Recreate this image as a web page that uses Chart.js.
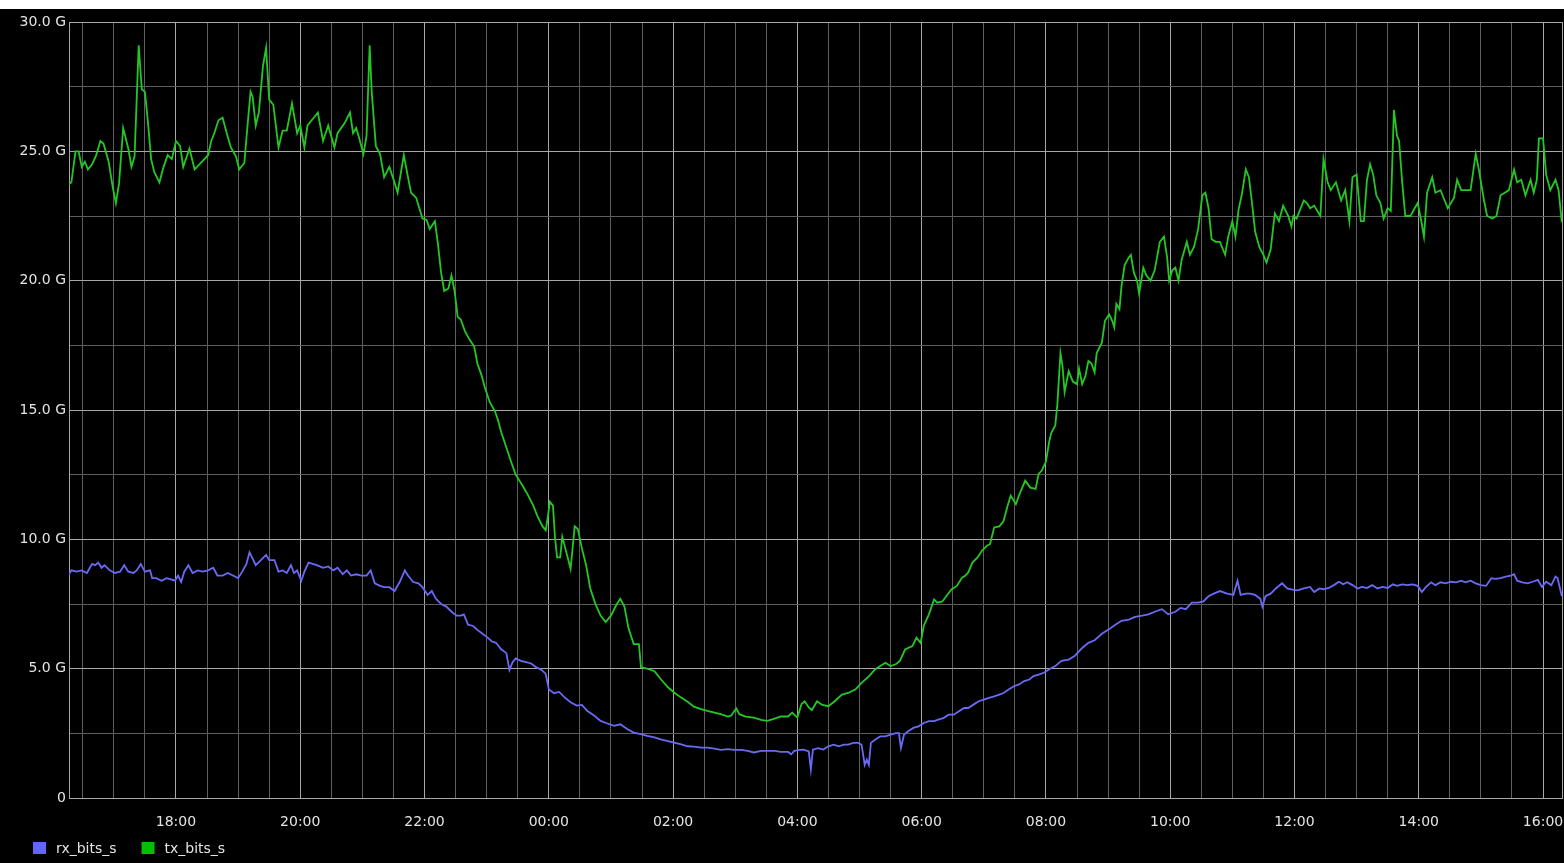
<!DOCTYPE html>
<html>
<head>
<meta charset="utf-8">
<script src="https://cdn.jsdelivr.net/npm/chart.js@4.4.1/dist/chart.umd.min.js"></script>
<style>
  html, body { margin: 0; padding: 0; background: #fff; width: 1564px; height: 863px; overflow: hidden; }
  #wrap { position: absolute; left: 0; top: 9px; width: 1564px; height: 854px; background: #000; }
  canvas { display: block; }
</style>
</head>
<body>
<div id="wrap"><canvas id="traffic" width="1564" height="854"></canvas></div>
<script>
// Sample times are minutes after 16:00 on the first day.
const START_HOUR = 16;

// tx_bits_s (Gbit/s)
const txMinutes = [
  10, 16, 19, 23, 26, 29, 32, 35, 39, 43, 47, 50, 55, 59, 62, 65, 69, 74, 77, 80,
  84, 87, 90, 93, 96, 99, 104, 108, 112, 116, 120, 124, 127, 133, 138, 144, 151, 154, 157, 161,
  165, 169, 173, 178, 181, 186, 188, 192, 194, 197, 200, 204, 207, 210, 214, 219, 223, 227, 232, 237,
  240, 244, 247, 253, 257, 262, 267, 273, 276, 283, 288, 291, 294, 297, 301, 304, 307, 309, 313, 317,
  321, 326, 331, 334, 336, 340, 344, 347, 352, 355, 358, 362, 365, 370, 373, 376, 379, 383, 386, 389,
  392, 395, 399, 403, 408, 411, 415, 418, 423, 428, 431, 434, 439, 444, 448, 455, 460, 465, 469, 474,
  477, 479, 481, 484, 486, 488, 491, 493, 496, 501, 505, 508, 512, 516, 520, 525, 530, 535, 540, 545,
  549, 553, 557, 562, 567, 569, 575, 582, 588, 595, 601, 607, 614, 620, 627, 633, 640, 646, 653, 656,
  661, 664, 670, 678, 685, 691, 698, 704, 711, 715, 720, 724, 727, 731, 734, 739, 744, 750, 756, 763,
  769, 776, 782, 789, 795, 800, 805, 810, 815, 819, 824, 831, 835, 839, 842, 847, 852, 855, 860, 865,
  869, 874, 879, 882, 885, 889, 894, 898, 903, 906, 910, 915, 919, 923, 926, 931, 935, 940, 945, 950,
  953, 956, 960, 963, 965, 969, 971, 974, 976, 978, 982, 986, 990, 992, 995, 998, 1001, 1004, 1007, 1009,
  1014, 1017, 1021, 1024, 1026, 1028, 1031, 1033, 1036, 1040, 1042, 1045, 1048, 1050, 1054, 1057, 1061, 1065, 1070, 1074,
  1077, 1079, 1082, 1085, 1088, 1091, 1096, 1099, 1103, 1107, 1111, 1114, 1117, 1120, 1124, 1128, 1133, 1136, 1140, 1143,
  1146, 1149, 1153, 1156, 1159, 1162, 1166, 1170, 1173, 1177, 1181, 1185, 1189, 1194, 1197, 1199, 1202, 1205, 1209, 1212,
  1215, 1219, 1225, 1228, 1232, 1235, 1240, 1245, 1249, 1253, 1256, 1260, 1264, 1267, 1270, 1273, 1276, 1279, 1283, 1286,
  1290, 1293, 1296, 1299, 1301, 1304, 1307, 1312, 1316, 1319, 1322, 1325, 1328, 1333, 1336, 1341, 1345, 1348, 1354, 1357,
  1361, 1365, 1370, 1375, 1378, 1383, 1386, 1391, 1395, 1399, 1403, 1407, 1412, 1415, 1419, 1423, 1428, 1431, 1434, 1436,
  1440, 1443, 1447, 1452, 1455, 1458, 1462
];
const txGbps = [
  23.6, 23.7, 23.8, 25.0, 25.0, 24.4, 24.6, 24.3, 24.5, 24.85, 25.4, 25.3, 24.6, 23.6, 23.0, 23.75, 25.9, 25.1, 24.4, 24.8,
  29.1, 27.4, 27.3, 26.1, 24.7, 24.2, 23.8, 24.4, 24.85, 24.7, 25.4, 25.2, 24.4, 25.1, 24.3, 24.55, 24.85, 25.4, 25.7, 26.2,
  26.3, 25.7, 25.15, 24.8, 24.3, 24.55, 25.5, 27.3, 27.1, 26.0, 26.5, 28.3, 29.0, 27.0, 26.8, 25.15, 25.8, 25.8, 26.85, 25.7,
  26.0, 25.15, 26.0, 26.3, 26.5, 25.4, 26.0, 25.15, 25.7, 26.1, 26.5, 25.7, 25.9, 25.5, 24.9, 25.6, 29.1, 27.3, 25.2, 24.9,
  24.0, 24.4, 23.8, 23.4, 23.9, 24.85, 24.0, 23.4, 23.2, 22.8, 22.4, 22.35, 22.0, 22.3, 21.4, 20.3, 19.6, 19.7, 20.2, 19.6,
  18.6, 18.5, 18.05, 17.75, 17.45, 16.8, 16.35, 15.9, 15.3, 14.95, 14.6, 14.15, 13.55, 12.95, 12.5, 12.05, 11.7, 11.3, 10.9, 10.5,
  10.35, 10.85, 11.45, 11.3, 10.05, 9.3, 9.3, 10.1, 9.64, 8.86, 10.5, 10.4, 9.64, 9.0, 8.1, 7.5, 7.05, 6.8, 7.05, 7.45,
  7.7, 7.4, 6.55, 5.95, 5.95, 5.05, 5.0, 4.9, 4.6, 4.28, 4.08, 3.9, 3.72, 3.53, 3.44, 3.37, 3.3, 3.24, 3.15, 3.18,
  3.46, 3.24, 3.15, 3.11, 3.02, 2.98, 3.07, 3.15, 3.15, 3.3, 3.11, 3.63, 3.74, 3.5, 3.4, 3.74, 3.6, 3.55, 3.74, 4.0,
  4.06, 4.19, 4.45, 4.7, 4.97, 5.1, 5.23, 5.1, 5.17, 5.3, 5.74, 5.87, 6.2, 6.0, 6.65, 7.1, 7.68, 7.55, 7.6, 7.87,
  8.07, 8.2, 8.52, 8.59, 8.72, 9.1, 9.3, 9.55, 9.75, 9.81, 10.46, 10.5, 10.7, 11.3, 11.69, 11.36, 11.8, 12.27, 12.0, 11.95,
  12.53, 12.66, 13.0, 13.75, 14.1, 14.4, 15.2, 17.2, 16.7, 15.7, 16.5, 16.1, 16.0, 16.6, 16.0, 16.3, 16.9, 16.8, 16.45, 17.2,
  17.6, 18.45, 18.7, 18.45, 18.2, 19.1, 18.9, 19.8, 20.6, 20.9, 21.0, 20.3, 20.0, 19.5, 20.5, 20.2, 20.0, 20.4, 21.5, 21.7,
  20.9, 20.0, 20.4, 20.5, 20.0, 20.8, 21.5, 21.0, 21.3, 22.0, 23.3, 23.4, 22.8, 21.6, 21.5, 21.5, 21.0, 21.7, 22.3, 21.7,
  22.75, 23.3, 24.3, 24.0, 23.0, 21.9, 21.3, 21.0, 20.7, 21.2, 22.6, 22.3, 22.9, 22.5, 22.1, 22.5, 22.4, 22.7, 23.1, 23.0,
  22.8, 22.9, 22.5, 24.7, 23.8, 23.5, 23.8, 23.1, 23.5, 22.3, 24.0, 24.1, 22.3, 22.3, 23.9, 24.5, 24.1, 23.3, 23.0, 22.4,
  22.8, 22.7, 26.6, 25.6, 25.4, 23.8, 22.5, 22.5, 22.8, 23.0, 22.4, 21.7, 23.4, 24.0, 23.4, 23.5, 23.1, 22.8, 23.2, 23.9,
  23.5, 23.5, 23.5, 24.9, 24.3, 23.1, 22.5, 22.4, 22.5, 23.3, 23.4, 23.5, 24.3, 23.8, 23.9, 23.3, 23.9, 23.4, 23.9, 25.5,
  25.5, 24.1, 23.5, 23.9, 23.5, 22.3, 22.2
];

// rx_bits_s (Gbit/s)
const rxMinutes = [
  10, 16, 19, 24, 29, 34, 39, 42, 45, 48, 51, 56, 61, 66, 70, 74, 79, 82, 86, 90,
  95, 97, 101, 106, 111, 115, 119, 122, 125, 128, 132, 136, 141, 146, 151, 156, 160, 165, 170, 175,
  180, 184, 188, 191, 194, 197, 202, 207, 210, 215, 219, 223, 227, 231, 234, 237, 241, 244, 248, 252,
  256, 262, 267, 272, 276, 281, 285, 289, 294, 299, 304, 308, 312, 317, 321, 326, 331, 336, 341, 344,
  349, 354, 358, 363, 367, 371, 376, 381, 386, 391, 395, 398, 402, 407, 411, 416, 421, 425, 429, 434,
  439, 442, 445, 448, 453, 458, 463, 468, 473, 477, 480, 485, 490, 495, 501, 507, 512, 517, 524, 530,
  536, 543, 549, 556, 562, 569, 575, 582, 588, 595, 601, 607, 614, 620, 627, 633, 640, 646, 653, 659,
  666, 672, 678, 685, 691, 698, 704, 711, 714, 717, 722, 726, 731, 733, 735, 740, 745, 750, 755, 760,
  765, 769, 774, 779, 782, 785, 787, 789, 791, 795, 800, 805, 810, 815, 818, 820, 823, 827, 832, 837,
  842, 847, 852, 856, 861, 866, 871, 876, 881, 885, 890, 895, 900, 905, 910, 915, 919, 924, 929, 934,
  939, 944, 948, 953, 958, 964, 969, 975, 982, 988, 995, 1001, 1007, 1014, 1020, 1027, 1033, 1040, 1046, 1053,
  1059, 1065, 1072, 1078, 1085, 1090, 1095, 1101, 1107, 1112, 1117, 1122, 1128, 1135, 1141, 1145, 1148, 1153, 1157, 1162,
  1167, 1169, 1172, 1177, 1182, 1188, 1193, 1199, 1203, 1209, 1215, 1219, 1224, 1228, 1233, 1238, 1243, 1247, 1251, 1256,
  1261, 1265, 1270, 1275, 1280, 1285, 1290, 1295, 1299, 1304, 1309, 1314, 1319, 1323, 1327, 1332, 1336, 1341, 1346, 1351,
  1356, 1361, 1365, 1370, 1375, 1380, 1385, 1390, 1394, 1399, 1404, 1409, 1412, 1415, 1420, 1425, 1430, 1435, 1439, 1443,
  1448, 1452, 1454, 1458, 1462
];
const rxGbps = [
  8.6, 8.6, 8.8, 8.75, 8.8, 8.7, 9.05, 9.0, 9.1, 8.9, 9.0, 8.8, 8.7, 8.75, 9.0, 8.75, 8.7, 8.8, 9.05, 8.75,
  8.8, 8.5, 8.5, 8.4, 8.5, 8.45, 8.4, 8.6, 8.35, 8.75, 9.0, 8.7, 8.8, 8.75, 8.8, 8.9, 8.6, 8.6, 8.7, 8.6,
  8.5, 8.75, 9.05, 9.5, 9.25, 9.0, 9.2, 9.4, 9.2, 9.2, 8.75, 8.8, 8.7, 9.0, 8.7, 8.8, 8.4, 8.75, 9.1, 9.05,
  9.0, 8.9, 8.95, 8.8, 8.9, 8.65, 8.8, 8.6, 8.65, 8.6, 8.6, 8.8, 8.3, 8.2, 8.15, 8.15, 8.0, 8.35, 8.8, 8.6,
  8.35, 8.3, 8.15, 7.85, 8.0, 7.7, 7.5, 7.4, 7.2, 7.05, 7.05, 7.1, 6.7, 6.65, 6.5, 6.35, 6.2, 6.05, 6.0, 5.75,
  5.6, 4.95, 5.25, 5.4, 5.3, 5.25, 5.2, 5.05, 4.95, 4.8, 4.2, 4.05, 4.1, 3.9, 3.7, 3.57, 3.6, 3.37, 3.18, 2.98,
  2.89, 2.79, 2.85, 2.66, 2.53, 2.47, 2.4, 2.34, 2.27, 2.2, 2.14, 2.08, 2.0, 1.99, 1.95, 1.95, 1.91, 1.86, 1.89, 1.86,
  1.86, 1.82, 1.76, 1.82, 1.82, 1.82, 1.78, 1.78, 1.69, 1.82, 1.86, 1.87, 1.8, 1.1, 1.87, 1.93, 1.87, 2.0, 2.06, 2.0,
  2.06, 2.06, 2.13, 2.13, 2.06, 1.28, 1.48, 1.28, 2.13, 2.25, 2.38, 2.38, 2.45, 2.51, 2.51, 1.93, 2.45, 2.58, 2.71, 2.77,
  2.9, 2.97, 2.97, 3.03, 3.09, 3.22, 3.22, 3.35, 3.48, 3.48, 3.61, 3.74, 3.8, 3.87, 3.93, 4.0, 4.06, 4.19, 4.32, 4.39,
  4.52, 4.58, 4.71, 4.77, 4.84, 5.0, 5.1, 5.3, 5.35, 5.5, 5.8, 6.0, 6.1, 6.35, 6.5, 6.7, 6.85, 6.9, 7.0, 7.05,
  7.1, 7.2, 7.3, 7.1, 7.2, 7.35, 7.3, 7.55, 7.55, 7.6, 7.8, 7.9, 8.0, 7.9, 7.85, 8.4, 7.85, 7.9, 7.9, 7.85,
  7.7, 7.4, 7.8, 7.9, 8.1, 8.3, 8.1, 8.05, 8.03, 8.1, 8.16, 7.96, 8.1, 8.07, 8.12, 8.23, 8.36, 8.26, 8.34, 8.23,
  8.1, 8.16, 8.12, 8.23, 8.1, 8.16, 8.12, 8.26, 8.2, 8.26, 8.23, 8.26, 8.2, 7.96, 8.16, 8.34, 8.23, 8.34, 8.3, 8.36,
  8.34, 8.4, 8.34, 8.4, 8.3, 8.23, 8.2, 8.5, 8.47, 8.5, 8.56, 8.6, 8.65, 8.4, 8.34, 8.3, 8.36, 8.43, 8.16, 8.36,
  8.23, 8.56, 8.5, 7.83, 7.77
];

// Visible time window (minutes after 16:00): 16:16:42 .. 16:18:18 next day
const X_MIN = 16.7;
const X_MAX = 1458.3;
// Time axis labels every 2 h, light grid every 30 min
const xMajorStepMin = 120;
const xMinorStepMin = 30;
// Value axis labels every 5 G, light grid every 2.5 G
const Y_MAX = 30;
const yMajorStep = 5;
const yMinorStep = 2.5;

const MAJOR_GRID = '#a8a8a8';
const MINOR_GRID = '#5e5e5e';
const TEXT = '#e4e4e4';
const RX_COLOR = '#6a6af6';
const TX_COLOR = '#24c824';

function toPoints(mins, vals) {
  return mins.map((m, i) => ({ x: m, y: vals[i] }));
}

function clockLabel(min) {
  const h = Math.round(START_HOUR + min / 60) % 24;
  return String(h).padStart(2, '0') + ':00';
}

function isMultiple(v, step) {
  const r = v / step;
  return Math.abs(r - Math.round(r)) < 1e-6;
}

Chart.defaults.font.family = "'DejaVu Sans', 'Liberation Sans', sans-serif";
Chart.defaults.font.size = 14;
Chart.defaults.color = TEXT;

// Legend drawn under the time axis, square swatch + label
const bottomLegend = {
  id: 'bottomLegend',
  afterDraw(chart) {
    const ctx = chart.ctx;
    ctx.save();
    ctx.font = "14px 'DejaVu Sans'";
    ctx.textBaseline = 'middle';
    ctx.textAlign = 'left';
    let x = 33;
    const boxTop = 833, yMid = 840;
    chart.data.datasets.forEach(ds => {
      ctx.fillStyle = ds.legendColor;
      ctx.fillRect(x, boxTop, 13, 12);
      ctx.fillStyle = TEXT;
      ctx.fillText(ds.label, x + 23, yMid);
      x += 23 + ctx.measureText(ds.label).width + 25;
    });
    ctx.restore();
  }
};

new Chart(document.getElementById('traffic'), {
  type: 'line',
  data: {
    datasets: [
      {
        label: 'rx_bits_s',
        data: toPoints(rxMinutes, rxGbps),
        borderColor: RX_COLOR,
        legendColor: '#6464ff',
        borderWidth: 1.8,
        pointRadius: 0,
        tension: 0,
        fill: false
      },
      {
        label: 'tx_bits_s',
        data: toPoints(txMinutes, txGbps),
        borderColor: TX_COLOR,
        legendColor: '#00c000',
        borderWidth: 1.8,
        pointRadius: 0,
        tension: 0,
        fill: false
      }
    ]
  },
  options: {
    responsive: false,
    animation: false,
    devicePixelRatio: 1,
    layout: { padding: { top: 13, right: 2, left: 0, bottom: 0 } },
    plugins: {
      legend: { display: false },
      tooltip: { enabled: false }
    },
    scales: {
      x: {
        type: 'linear',
        min: X_MIN,
        max: X_MAX,
        afterBuildTicks(scale) {
          // both window edges plus every half hour inside
          const ticks = [{ value: X_MIN }];
          for (let m = xMinorStepMin; m < X_MAX; m += xMinorStepMin) {
            if (m > X_MIN) ticks.push({ value: m });
          }
          ticks.push({ value: X_MAX });
          scale.ticks = ticks;
        },
        afterFit(scale) { scale.height = 65; },
        border: { display: true, color: MAJOR_GRID },
        grid: {
          // invisible tick marks push the hour labels below the plot
          drawTicks: true,
          tickLength: 16,
          tickColor: 'rgba(0,0,0,0)',
          lineWidth: 1,
          color: c => {
            if (!c.tick) return MINOR_GRID;
            const v = c.tick.value;
            return (v === X_MIN || v === X_MAX || isMultiple(v, xMajorStepMin)) ? MAJOR_GRID : MINOR_GRID;
          }
        },
        ticks: {
          autoSkip: false,
          maxRotation: 0,
          padding: 0,
          color: TEXT,
          callback: v => (v !== X_MIN && v !== X_MAX && isMultiple(v, xMajorStepMin)) ? clockLabel(v) : ''
        }
      },
      y: {
        min: 0,
        max: Y_MAX,
        afterBuildTicks(scale) {
          const ticks = [];
          for (let v = 0; v <= Y_MAX + 1e-9; v += yMinorStep) ticks.push({ value: v });
          scale.ticks = ticks;
        },
        afterFit(scale) { scale.width = 69; },
        border: { display: true, color: MAJOR_GRID },
        grid: {
          drawTicks: false,
          lineWidth: 1,
          color: c => (c.tick && isMultiple(c.tick.value, yMajorStep)) ? MAJOR_GRID : MINOR_GRID
        },
        ticks: {
          autoSkip: false,
          padding: 3,
          color: TEXT,
          callback: v => {
            if (!isMultiple(v, yMajorStep)) return '';
            return v === 0 ? '0' : v.toFixed(1) + ' G';
          }
        }
      }
    }
  },
  plugins: [bottomLegend]
});
</script>
</body>
</html>
